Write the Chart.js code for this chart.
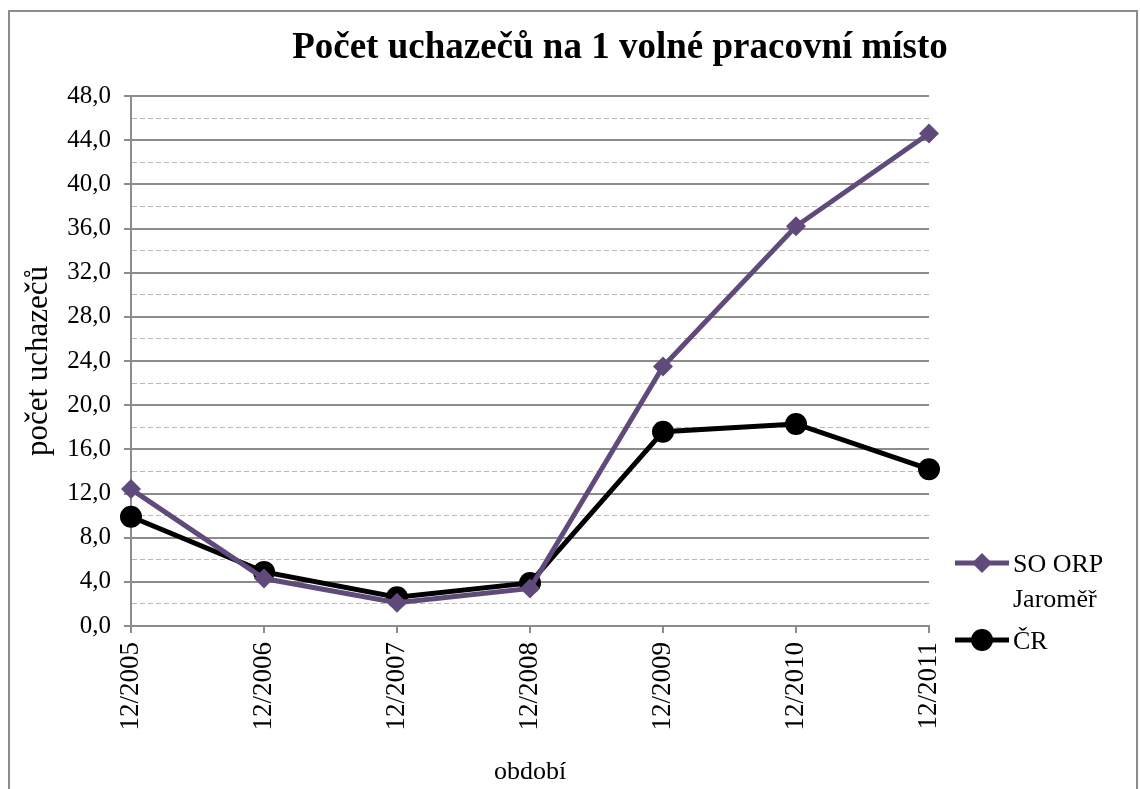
<!DOCTYPE html>
<html>
<head>
<meta charset="utf-8">
<script src="https://cdn.jsdelivr.net/npm/chart.js@4"></script>
<style>
  body { margin: 0; background: #fff; }
  #wrap { position: relative; width: 1140px; height: 789px; overflow: hidden; }
  #frame { position: absolute; left: 8px; top: 10px; width: 1130px; height: 800px; border: 2px solid #8c8c8c; box-sizing: border-box; }
  #c { position: absolute; left: 0; top: 0; }
</style>
</head>
<body>
<div id="wrap">
  <div id="frame"></div>
  <canvas id="c" width="1140" height="789"></canvas>
</div>
<script>
// data
const periods = ["12/2005", "12/2006", "12/2007", "12/2008", "12/2009", "12/2010", "12/2011"];
const orpValues = [12.4, 4.3, 2.1, 3.4, 23.5, 36.2, 44.6];
const crValues = [9.9, 4.9, 2.6, 3.9, 17.6, 18.3, 14.2];
const seriesNames = ["SO ORP\nJaroměř", "ČR"];
const chartTitle = "Počet uchazečů na 1 volné pracovní místo";
const yTitle = "počet uchazečů";
const xTitle = "období";

const serif = '"Liberation Serif", "Times New Roman", serif';

// title + legend on the right, drawn by hand (legend label wraps on 2 lines)
const sideLegend = {
  id: "sideLegend",
  afterDraw(chart) {
    const ctx = chart.ctx;
    const area = chart.chartArea;
    ctx.save();
    ctx.fillStyle = "#000";
    ctx.font = "bold 37px " + serif;
    ctx.textAlign = "center";
    ctx.textBaseline = "middle";
    ctx.fillText(chartTitle, 620, 48);

    const rows = [area.bottom - 63, area.bottom + 14];
    chart.data.datasets.forEach((ds, i) => {
      const y = rows[i];
      const x0 = area.right + 26;
      ctx.strokeStyle = ds.borderColor;
      ctx.lineWidth = ds.borderWidth;
      ctx.beginPath();
      ctx.moveTo(x0, y);
      ctx.lineTo(x0 + 54, y);
      ctx.stroke();
      ctx.fillStyle = ds.pointBackgroundColor;
      Chart.helpers.drawPoint(ctx, {
        pointStyle: ds.pointStyle, radius: ds.pointRadius, rotation: 0, borderWidth: 0
      }, x0 + 27, y);
      ctx.fillStyle = "#000";
      ctx.font = "26px " + serif;
      ctx.textAlign = "left";
      ds.label.split("\n").forEach((line, k) => {
        ctx.fillText(line, x0 + 58, y + 2 + k * 35);
      });
    });
    ctx.restore();
  }
};

new Chart(document.getElementById("c"), {
  type: "line",
  data: {
    labels: periods,
    datasets: [
      {
        label: seriesNames[0],
        data: orpValues,
        borderColor: "#604a7b",
        backgroundColor: "#604a7b",
        pointBackgroundColor: "#604a7b",
        pointBorderWidth: 0,
        borderWidth: 5,
        pointStyle: "rectRot",
        pointRadius: 10,
        tension: 0,
        clip: false
      },
      {
        label: seriesNames[1],
        data: crValues,
        borderColor: "#000",
        backgroundColor: "#000",
        pointBackgroundColor: "#000",
        pointBorderWidth: 0,
        borderWidth: 5,
        pointStyle: "circle",
        pointRadius: 11,
        tension: 0,
        clip: false
      }
    ]
  },
  options: {
    responsive: false,
    animation: false,
    layout: { padding: { left: 20, right: 211, top: 96, bottom: 0 } },
    plugins: {
      legend: { display: false },
      tooltip: { enabled: false },
      title: { display: false }
    },
    scales: {
      x: {
        offset: false,
        afterFit: s => { s.height = 163; },
        grid: { drawOnChartArea: false, color: "#8c8c8c", tickLength: 7, lineWidth: 2 },
        border: { color: "#8c8c8c", width: 2 },
        ticks: {
          minRotation: 90, maxRotation: 90, color: "#000", padding: 9,
          font: { family: serif, size: 27 }
        },
        title: {
          display: true, text: xTitle, color: "#000", padding: { top: 0, bottom: 1 },
          font: { family: serif, size: 26 }
        }
      },
      y: {
        min: 0,
        max: 48,
        afterFit: s => { s.width = 111; },
        grid: {
          color: c => (c.tick && c.tick.value % 4 !== 0) ? "#b8b8b8" : "#8c8c8c",
          lineWidth: c => (c.tick && c.tick.value % 4 !== 0) ? 1 : 2,
          tickLength: 7,
          tickColor: c => (c.tick && c.tick.value % 4 !== 0) ? "rgba(0,0,0,0)" : "#8c8c8c"
        },
        border: {
          color: "#8c8c8c", width: 2,
          dash: c => (c.tick && c.tick.value % 4 !== 0) ? [5, 3] : []
        },
        ticks: {
          stepSize: 2,
          autoSkip: false,
          color: "#000",
          padding: 13,
          font: { family: serif, size: 25 },
          callback: v => v % 4 === 0 ? v.toFixed(1).replace(".", ",") : ""
        },
        title: {
          display: true, text: yTitle, color: "#000", padding: { top: 0, bottom: 0 },
          font: { family: serif, size: 31 }
        }
      }
    }
  },
  plugins: [sideLegend]
});
</script>
</body>
</html>
